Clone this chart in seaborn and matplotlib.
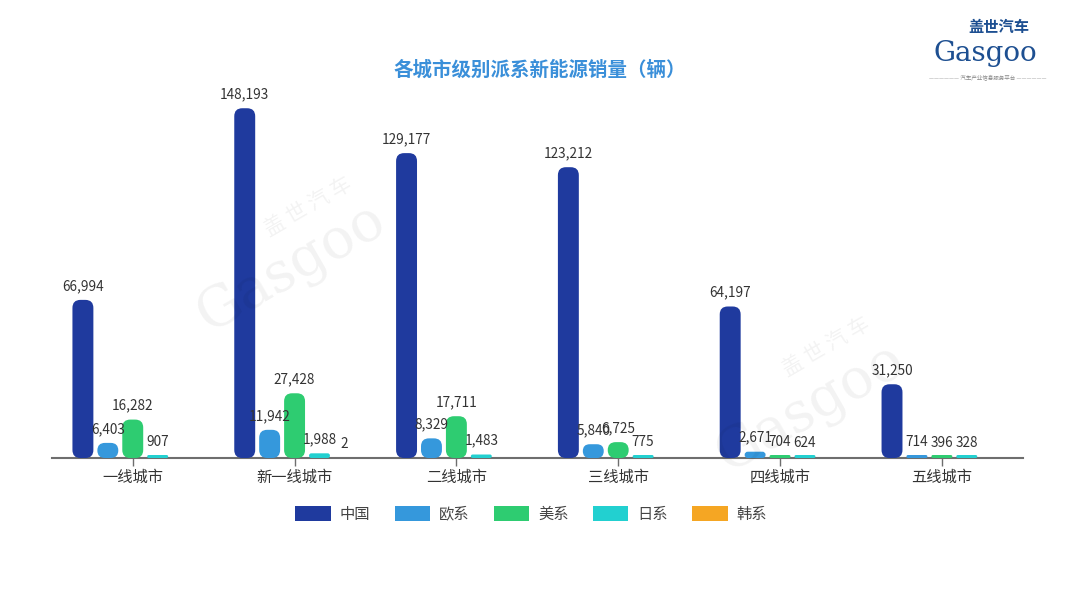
import numpy as np
import pandas as pd
import matplotlib
matplotlib.use("Agg")
import matplotlib.pyplot as plt
import seaborn as sns
from matplotlib.patches import FancyBboxPatch, Patch

categories = ["一线城市", "新一线城市", "二线城市", "三线城市", "四线城市", "五线城市"]
series_names = ["中国", "欧系", "美系", "日系", "韩系"]
china = [66994, 148193, 129177, 123212, 64197, 31250]
europe = [6403, 11942, 8329, 5840, 2671, 714]
america = [16282, 27428, 17711, 6725, 704, 396]
japan = [907, 1988, 1483, 775, 624, 328]
korea = [np.nan, 2, np.nan, np.nan, np.nan, np.nan]
colors = ["#1f3a9e", "#3598dc", "#2ecc71", "#22d0d0", "#f5a623"]

rows = []
for name, vals in zip(series_names, [china, europe, america, japan, korea]):
    for c, v in zip(categories, vals):
        rows.append({"城市": c, "派系": name, "销量": v})
df = pd.DataFrame(rows)

sns.set_theme(style="white")
plt.rcParams["font.family"] = ["Noto Sans CJK SC", "DejaVu Sans"]

fig = plt.figure(figsize=(10.8, 6.08), dpi=100)
ax = fig.add_axes([0.048, 0.2467, 0.899, 0.5823])

sns.barplot(data=df, x="城市", y="销量", hue="派系", hue_order=series_names,
            palette=colors, width=0.77, gap=0.16, dodge=True, ax=ax,
            errorbar=None, legend=False, saturation=1)

ax.set_ylim(0, 150000)
ax.set_xlim(-0.5, len(categories) - 0.5)

# convert patches to rounded bars
fig.canvas.draw()
bbox = ax.get_window_extent()
px_per_x = bbox.width / (ax.get_xlim()[1] - ax.get_xlim()[0])
px_per_y = bbox.height / (ax.get_ylim()[1] - ax.get_ylim()[0])
aspect = px_per_x / px_per_y

patches = list(ax.patches)
for p in patches:
    x0, y0 = p.get_x(), p.get_y()
    w, h = p.get_width(), p.get_height()
    col = p.get_facecolor()
    p.remove()
    if not np.isfinite(h) or h < 50:
        continue
    w_px = w * px_per_x
    h_draw = max(h, 3.0 / px_per_y)
    h_px = h_draw * px_per_y
    r_px = min(8.0, w_px / 2, h_px / 2)
    r = r_px / px_per_x
    fb = FancyBboxPatch((x0, y0), w, h_draw,
                        boxstyle=f"round,pad=0,rounding_size={r}",
                        mutation_aspect=aspect, facecolor=col,
                        edgecolor="none", zorder=3)
    ax.add_patch(fb)

# data labels
n = len(series_names)
slot = 0.77 / n
for i, (name, vals) in enumerate(zip(series_names, [china, europe, america, japan, korea])):
    for j, v in enumerate(vals):
        if not np.isfinite(v):
            continue
        xc = j - 0.77 / 2 + slot * (i + 0.5)
        ax.annotate(f"{int(v):,}", (xc, v), xytext=(0, 5), textcoords="offset points",
                    ha="center", va="bottom", fontsize=9.8, color="#333333", zorder=5)

for s in ["top", "right", "left"]:
    ax.spines[s].set_visible(False)
ax.spines["bottom"].set_color("#6e6e6e")
ax.spines["bottom"].set_linewidth(1.5)
ax.set_yticks([])
ax.set_xlabel("")
ax.set_ylabel("")
ax.tick_params(axis="x", bottom=True, length=6, width=1, color="#6e6e6e",
               labelsize=11, labelcolor="#333333", pad=2)

handles = [FancyBboxPatch((0, 0), 1, 1, boxstyle="round,pad=0,rounding_size=0.25",
                          facecolor=c, edgecolor="none", label=s)
           for c, s in zip(colors, series_names)]
handles = [Patch(facecolor=c, edgecolor="none", label=s) for c, s in zip(colors, series_names)]
fig.legend(handles=handles, loc="center", bbox_to_anchor=(0.492, 0.1546), ncol=5,
           frameon=False, fontsize=11, handlelength=2.3, handleheight=1.1,
           columnspacing=1.6, handletextpad=0.6, labelcolor="#444444")

fig.text(0.5, 0.885, "各城市级别派系新能源销量（辆）", ha="center", va="center",
         fontsize=14, color="#3a8fd9", fontweight="bold")

# watermarks
for (wx, wy) in [(0.27, 0.56), (0.75, 0.33)]:
    fig.text(wx, wy, "Gasgoo", ha="center", va="center", fontsize=40,
             family="DejaVu Serif", color="#000000", alpha=0.05, rotation=30)
    fig.text(wx + 0.015, wy + 0.1, "盖 世 汽 车", ha="center", va="center", fontsize=15,
             color="#000000", alpha=0.05, rotation=30)

# logo
fig.text(0.925, 0.955, "盖世汽车", ha="center", va="center", fontsize=11,
         color="#1d4f91", fontweight="bold")
fig.text(0.912, 0.912, "Gasgoo", ha="center", va="center", fontsize=20,
         color="#1d4f91", family="DejaVu Serif")
fig.text(0.915, 0.873, "—————— 汽车产业信息服务平台 ——————", ha="center", va="center",
         fontsize=4, color="#888888")

fig.savefig("out.png", dpi=100)
